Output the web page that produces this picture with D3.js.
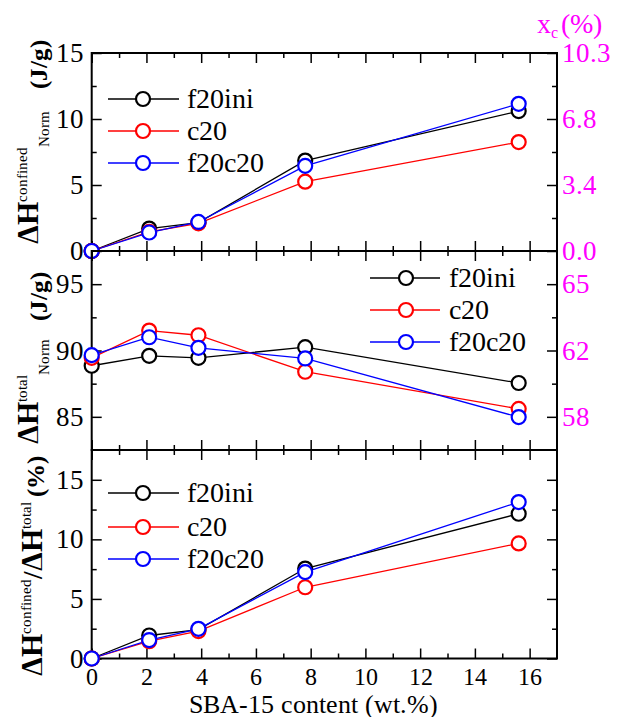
<!DOCTYPE html>
<html>
<head>
<meta charset="utf-8">
<script src="https://cdn.jsdelivr.net/npm/d3@7"></script>
<style>
  @font-face { font-family: "ChartSerif"; src: local("Liberation Serif"), local("LiberationSerif"), local("Times New Roman"); font-weight: normal; }
  @font-face { font-family: "ChartSerif"; src: local("Liberation Serif Bold"), local("LiberationSerif-Bold"), local("Times New Roman Bold"); font-weight: bold; }
</style>
</head>
<body style="margin:0">
<svg id="chart" width="618" height="717"></svg>
<script>
// ---------------- data ----------------
const xValues = [0, 2.1, 3.9, 7.8, 15.6];
const seriesNames = ["f20ini", "c20", "f20c20"];
const seriesColors = ["#000000", "#ff0000", "#0000ff"];

// top panel: ΔH confined (J/g)
const confinedF20ini = [0, 1.7, 2.15, 6.85, 10.6];
const confinedC20    = [0, 1.45, 2.1, 5.25, 8.25];
const confinedF20c20 = [0, 1.4, 2.2, 6.45, 11.15];

// middle panel: ΔH total (J/g)
const totalF20ini = [88.85, 89.6, 89.45, 90.25, 87.55];
const totalC20    = [89.45, 91.5, 91.15, 88.4, 85.6];
const totalF20c20 = [89.65, 91.0, 90.2, 89.4, 84.98];

// bottom panel: ratio (%)
const ratioF20ini = [0, 1.93, 2.43, 7.55, 12.15];
const ratioC20    = [0, 1.45, 2.3, 5.98, 9.66];
const ratioF20c20 = [0, 1.55, 2.49, 7.25, 13.13];

// ticks
const xMajorTicks = [0, 2, 4, 6, 8, 10, 12, 14, 16];
const xMinorTicks = [1, 3, 5, 7, 9, 11, 13, 15];
const topYTicks = [0, 5, 10, 15];
const topYMinor = [2.5, 7.5, 12.5];
const topRightLabels = ["0.0", "3.4", "6.8", "10.3"];
const midYTicks = [85, 90, 95];
const midYMinor = [87.5, 92.5];
const midRightLabels = ["58", "62", "65"];
const botYTicks = [0, 5, 10, 15];
const botYMinor = [2.5, 7.5, 12.5];

// ---------------- layout ----------------
const svg = d3.select("#chart");
const left = 91.7, right = 557;
const magenta = "#ff00ff";
const SERIF = '"ChartSerif", "Liberation Serif", monospace';

const x = d3.scaleLinear().domain([0, 17]).range([left, right]);

const panels = [
  { top: 53, bottom: 251, domain: [0, 15], major: topYTicks, minor: topYMinor,
    series: [confinedF20ini, confinedC20, confinedF20c20],
    rightLabels: topRightLabels, xLabels: false,
    legend: { lx1: 108, lx2: 179, cx: 143, tx: 187, rows: [99, 131, 163] } },
  { top: 251, bottom: 450, domain: [82.5, 97.5], major: midYTicks, minor: midYMinor,
    series: [totalF20ini, totalC20, totalF20c20],
    rightLabels: midRightLabels, xLabels: false,
    legend: { lx1: 370, lx2: 440, cx: 406, tx: 449, rows: [278, 310, 342] } },
  { top: 450, bottom: 658.5, domain: [0, 17.5], major: botYTicks, minor: botYMinor,
    series: [ratioF20ini, ratioC20, ratioF20c20],
    rightLabels: null, xLabels: true,
    legend: { lx1: 108, lx2: 179, cx: 143, tx: 187, rows: [493, 527, 559] } }
];

function styleAxis(g, size, color) {
  g.attr("font-family", null).attr("font-size", null);
  g.select(".domain").remove();
  g.selectAll("line").attr("stroke", "#000").attr("stroke-width", 1.5);
  g.selectAll("text").style("font-family", SERIF).style("font-size", size + "px").attr("fill", color || "#000");
}

panels.forEach((p) => {
  const y = d3.scaleLinear().domain(p.domain).range([p.bottom, p.top]);
  const g = svg.append("g");

  g.append("g").attr("transform", `translate(0,${p.bottom})`)
    .call(d3.axisBottom(x).tickValues(xMajorTicks).tickSize(-10).tickPadding(9)
      .tickFormat(p.xLabels ? d3.format("d") : () => ""))
    .call(a => styleAxis(a, 24));
  g.append("g").attr("transform", `translate(0,${p.bottom})`)
    .call(d3.axisBottom(x).tickValues(xMinorTicks).tickSize(-5).tickFormat(() => ""))
    .call(a => styleAxis(a, 24));
  g.append("g").attr("transform", `translate(0,${p.top})`)
    .call(d3.axisTop(x).tickValues(xMajorTicks).tickSize(-10).tickFormat(() => ""))
    .call(a => styleAxis(a, 24));
  g.append("g").attr("transform", `translate(0,${p.top})`)
    .call(d3.axisTop(x).tickValues(xMinorTicks).tickSize(-5).tickFormat(() => ""))
    .call(a => styleAxis(a, 24));
  g.append("g").attr("transform", `translate(${left},0)`)
    .call(d3.axisLeft(y).tickValues(p.major).tickSize(-10).tickPadding(8).tickFormat(d3.format("d")))
    .call(a => styleAxis(a, 27));
  g.append("g").attr("transform", `translate(${left},0)`)
    .call(d3.axisLeft(y).tickValues(p.minor).tickSize(-5).tickFormat(() => ""))
    .call(a => styleAxis(a, 27));
  g.append("g").attr("transform", `translate(${right},0)`)
    .call(d3.axisRight(y).tickValues(p.major).tickSize(-10).tickPadding(5)
      .tickFormat((d, i) => p.rightLabels ? p.rightLabels[i] : ""))
    .call(a => styleAxis(a, 27, magenta));
  g.append("g").attr("transform", `translate(${right},0)`)
    .call(d3.axisRight(y).tickValues(p.minor).tickSize(-5).tickFormat(() => ""))
    .call(a => styleAxis(a, 27));

  g.append("rect").attr("x", left).attr("y", p.top)
    .attr("width", right - left).attr("height", p.bottom - p.top)
    .attr("fill", "none").attr("stroke", "#000").attr("stroke-width", 2);

  const line = d3.line().x((d, i) => x(xValues[i])).y(d => y(d));
  p.series.forEach((vals, si) => {
    g.append("path").datum(vals).attr("d", line)
      .attr("fill", "none").attr("stroke", seriesColors[si]).attr("stroke-width", 1.3);
  });
  p.series.forEach((vals, si) => {
    g.selectAll(null).data(vals).enter().append("circle")
      .attr("cx", (d, i) => x(xValues[i])).attr("cy", d => y(d)).attr("r", 7)
      .attr("fill", "#fff").attr("stroke", seriesColors[si]).attr("stroke-width", 2.2);
  });

  const L = p.legend;
  seriesNames.forEach((name, si) => {
    const ry = L.rows[si];
    g.append("line").attr("x1", L.lx1).attr("x2", L.lx2).attr("y1", ry).attr("y2", ry)
      .attr("stroke", seriesColors[si]).attr("stroke-width", 1.3);
    g.append("circle").attr("cx", L.cx).attr("cy", ry).attr("r", 7)
      .attr("fill", "#fff").attr("stroke", seriesColors[si]).attr("stroke-width", 2.2);
    g.append("text").attr("x", L.tx).attr("y", ry + 9)
      .style("font-family", SERIF).style("font-size", "28px").attr("fill", "#000").text(name);
  });
});

// ---------------- axis titles ----------------
function yTitle(tx, ty, parts) {
  const t = svg.append("g").attr("transform", `translate(${tx},${ty}) rotate(-90)`)
    .append("text").attr("fill", "#000").style("font-family", SERIF).style("font-size", "28px");
  parts.forEach(pt => {
    const s = t.append("tspan").text(pt.text)
      .style("font-size", pt.size + "px")
      .style("font-weight", pt.bold ? "bold" : "normal");
    if (pt.dy) s.attr("dy", pt.dy);
    if (pt.dx) s.attr("dx", pt.dx);
  });
}

yTitle(38, 244, [
  { text: "ΔH", size: 30, bold: true },
  { text: "confined", size: 15, dy: -11 },
  { text: "Norm", size: 15, dy: 22 },
  { text: "(J/g)", size: 25, bold: true, dy: -2, dx: 22 }
]);
yTitle(38, 444, [
  { text: "ΔH", size: 30, bold: true },
  { text: "total", size: 15, dy: -11 },
  { text: "Norm", size: 15, dy: 22 },
  { text: "(J/g)", size: 25, bold: true, dy: -2, dx: 18 }
]);
yTitle(42, 676, [
  { text: "ΔH", size: 30, bold: true },
  { text: "confined", size: 15, dy: -11 },
  { text: "/", size: 27, bold: true, dy: 11 },
  { text: "ΔH", size: 30, bold: true },
  { text: "total", size: 15, dy: -11 },
  { text: "(%)", size: 25, bold: true, dy: 13, dx: 5 }
]);

svg.append("text").attr("x", 313).attr("y", 713).attr("text-anchor", "middle")
  .style("font-family", SERIF).style("font-size", "26px").attr("fill", "#000")
  .text("SBA-15 content (wt.%)");

const xc = svg.append("text").attr("x", 537).attr("y", 33)
  .style("font-family", SERIF).style("font-size", "28px").attr("fill", magenta);
xc.append("tspan").text("x");
xc.append("tspan").text("c").style("font-size", "16px").attr("dy", 5);
xc.append("tspan").text("(%)").attr("dy", -5).attr("dx", 3);
</script>
</body>
</html>
